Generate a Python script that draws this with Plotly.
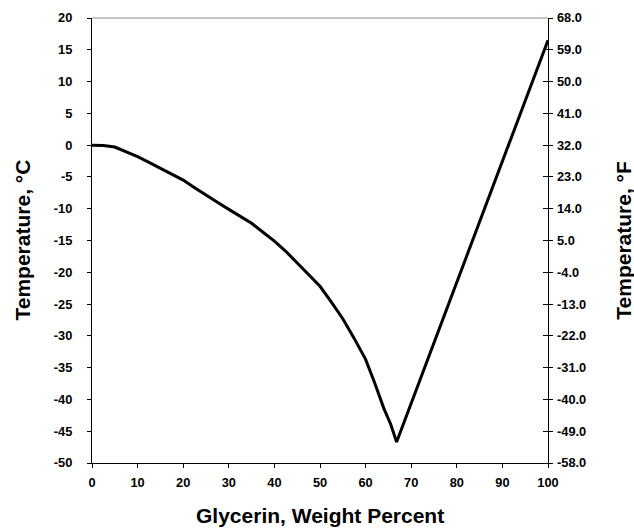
import plotly.graph_objects as go

# Glycerin weight percent and freezing temperature (°C)
glycerin_pct = [0, 2.5, 5, 7.5, 10, 12.5, 15, 17.5, 20, 22.5, 25, 27.5, 30, 32.5, 35,
                37.5, 40, 42.5, 45, 47.5, 50, 52.5, 55, 57.5, 60, 62, 64, 65.5, 66.8, 100]
temp_c = [0, -0.05, -0.3, -1.0, -1.8, -2.7, -3.6, -4.6, -5.5, -6.7, -7.9, -9.0, -10.1,
          -11.2, -12.3, -13.7, -15.1, -16.7, -18.5, -20.3, -22.2, -24.7, -27.3, -30.4,
          -33.7, -37.4, -41.4, -43.9, -46.7, 16.5]
temp_f = [c * 9 / 5 + 32 for c in temp_c]

x_ticks = list(range(0, 101, 10))
c_ticks = list(range(-50, 21, 5))
c_labels = ["-50", "-45", "-40", "-35", "-30", "-25", "-20", "-15", "-10", "-5",
            "0", "5", "10", "15", "20"]
f_ticks = [c * 9 / 5 + 32 for c in c_ticks]
f_labels = ["-58.0", "-49.0", "-40.0", "-31.0", "-22.0", "-13.0", "-4.0", "5.0",
            "14.0", "23.0", "32.0", "41.0", "50.0", "59.0", "68.0"]

FONT = "Liberation Sans, Arial, sans-serif"
tickfont = dict(family=FONT, size=12.8, color="black", weight="bold")
titlefont = dict(family=FONT, size=21, color="black", weight="bold")

fig = go.Figure()
fig.add_trace(go.Scatter(x=glycerin_pct, y=temp_c, mode="lines",
                         line=dict(color="black", width=3), showlegend=False,
                         hoverinfo="x+y"))
fig.add_trace(go.Scatter(x=glycerin_pct, y=temp_f, mode="lines", yaxis="y2",
                         line=dict(color="rgba(0,0,0,0)", width=0), showlegend=False,
                         hoverinfo="skip"))

fig.update_layout(
    width=634, height=529,
    margin=dict(l=92, r=86, t=18, b=66),
    paper_bgcolor="white", plot_bgcolor="white",
    xaxis=dict(range=[0, 100], tickvals=x_ticks, ticks="outside", ticklen=4,
               tickwidth=1.2, tickcolor="black", showline=True, linecolor="black",
               linewidth=1.2, showgrid=False, zeroline=False, tickfont=tickfont,
               ticklabelstandoff=4, automargin=False),
    yaxis=dict(range=[-50, 20], tickvals=c_ticks, ticktext=c_labels, ticks="outside",
               ticklen=4, tickwidth=1.2, tickcolor="black", showline=True,
               linecolor="black", linewidth=1.2, mirror="ticks", showgrid=False,
               zeroline=False, tickfont=tickfont, ticklabelstandoff=12,
               automargin=False),
    yaxis2=dict(range=[-58, 68], tickvals=f_ticks, ticktext=f_labels, overlaying="y",
                side="right", anchor="x", ticks="inside", ticklen=5, tickwidth=1.2,
                tickcolor="black", showline=False, showgrid=False, zeroline=False,
                tickfont=tickfont, ticklabelstandoff=8, automargin=False),
    shapes=[dict(type="line", xref="paper", yref="paper", x0=0, x1=1, y0=1, y1=1,
                 line=dict(color="#888888", width=1))],
    annotations=[
        dict(text="Glycerin, Weight Percent", xref="paper", yref="paper", x=0.5,
             y=-0.117, xanchor="center", yanchor="middle", showarrow=False,
             font=titlefont),
        dict(text="Temperature, °C", xref="paper", yref="paper", x=-0.1535, y=0.5,
             xanchor="center", yanchor="middle", textangle=-90, showarrow=False,
             font=titlefont),
        dict(text="Temperature, °F", xref="paper", yref="paper", x=1.165, y=0.5,
             xanchor="center", yanchor="middle", textangle=-90, showarrow=False,
             font=titlefont),
    ],
)

fig.write_html("out.html", config={"displayModeBar": False},
               post_script="document.body.style.margin='0';document.body.style.overflow='hidden';")
